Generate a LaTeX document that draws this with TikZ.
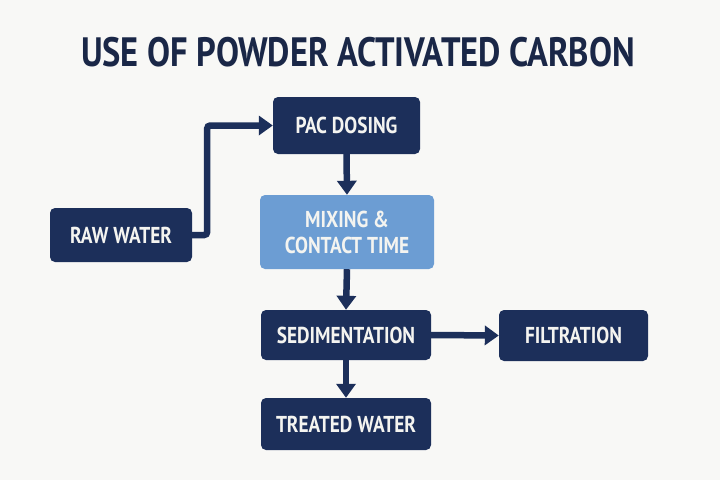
\documentclass[tikz,border=0pt]{standalone}
\usepackage{fontspec}
\setmainfont{PT Sans}[FakeStretch=0.84]
\usetikzlibrary{arrows.meta}
\definecolor{navy}{HTML}{1C2F5A}
\definecolor{lightbl}{HTML}{6C9DD3}
\definecolor{bg}{HTML}{F8F8F6}
\definecolor{titlec}{HTML}{1A2747}
\definecolor{txt}{HTML}{F4F4F0}
\tikzset{
  box/.style={rounded corners=5pt, fill=navy, text=txt, font=\bfseries\fontsize{23}{26}\selectfont, align=center, inner sep=0pt},
  lbox/.style={box, fill=lightbl},
  arr/.style={draw=navy, line width=6.5pt, -{Triangle[width=19pt,length=14pt]}},
}
\begin{document}
\begin{tikzpicture}[x=1pt,y=-1pt]
\fill[bg] (0,0) rectangle (720,480);
\useasboundingbox (0,0) rectangle (720,480);
\node[text=titlec, font=\bfseries\fontsize{41}{44}\selectfont] (title) at (358,52) {USE OF POWDER ACTIVATED CARBON};
\node[box, minimum width=142pt, minimum height=54pt] (raw) at (121,235) {RAW WATER};
\node[box, minimum width=147pt, minimum height=57pt] (pac) at (346.5,125.5) {PAC DOSING};
\node[lbox, minimum width=174pt, minimum height=74pt] (mix) at (347,232) {MIXING \&\\CONTACT TIME};
\node[box, minimum width=170pt, minimum height=50pt] (sed) at (346,335) {SEDIMENTATION};
\node[box, minimum width=149pt, minimum height=51pt] (fil) at (573.5,335.5) {FILTRATION};
\node[box, minimum width=170pt, minimum height=52pt] (trt) at (346,424) {TREATED WATER};
\draw[arr, rounded corners=3pt] (raw.east) -- ++(15,0) |- (pac.west);
\draw[arr] (pac.south) -- (mix.north);
\draw[arr] (mix.south) -- (sed.north);
\draw[arr] (sed.east) -- (fil.west);
\draw[arr] (sed.south) -- (trt.north);
\end{tikzpicture}
\end{document}
